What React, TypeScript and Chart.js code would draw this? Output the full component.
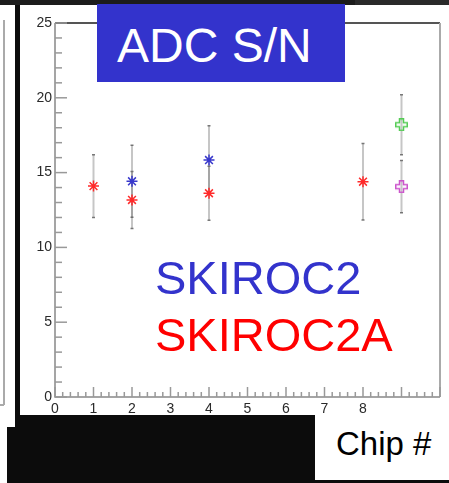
import React, { useEffect, useRef } from "react";
import { Chart, registerables } from "chart.js";

Chart.register(...registerables);

// ---- data ----
const skiroc2X = [2, 4];
const skiroc2Y = [14.42, 15.84];
const skiroc2Err = [2.4, 2.3];

const skiroc2aX = [1, 2, 4, 8];
const skiroc2aY = [14.1, 13.17, 13.62, 14.39];
const skiroc2aErr = [2.1, 1.9, 1.8, 2.56];

const greenX = [9];
const greenY = [18.2];
const greenErr = [2.0];

const magentaX = [9];
const magentaY = [14.06];
const magentaErr = [1.75];

const xTickMax = 8; // labels shown up to this value
const FONT = "'Liberation Sans', Arial, Helvetica, sans-serif";

function openCross(color: string): HTMLCanvasElement {
  const c = document.createElement("canvas");
  const s = 13;
  c.width = s;
  c.height = s;
  const g = c.getContext("2d")!;
  const a = 4.5, b = 8.5, lo = 0.75, hi = 12.25;
  g.strokeStyle = color;
  g.lineWidth = 1.5;
  g.beginPath();
  g.moveTo(a, lo);
  g.lineTo(b, lo);
  g.lineTo(b, a);
  g.lineTo(hi, a);
  g.lineTo(hi, b);
  g.lineTo(b, b);
  g.lineTo(b, hi);
  g.lineTo(a, hi);
  g.lineTo(a, b);
  g.lineTo(lo, b);
  g.lineTo(lo, a);
  g.lineTo(a, a);
  g.closePath();
  g.stroke();
  return c;
}

const framePlugin = {
  id: "rootFrame",
  beforeDatasetsDraw(chart: any) {
    const { ctx, chartArea: ca, scales } = chart;
    const xs = scales.x;
    const ys = scales.y;
    ctx.save();
    // frame
    ctx.lineWidth = 2;
    ctx.strokeStyle = "#555";
    ctx.beginPath();
    ctx.moveTo(ca.left, ca.top);
    ctx.lineTo(ca.right, ca.top);
    ctx.stroke();
    ctx.strokeStyle = "#aaa";
    ctx.beginPath();
    ctx.moveTo(ca.right, ca.top);
    ctx.lineTo(ca.right, ca.bottom);
    ctx.stroke();
    ctx.strokeStyle = "#888";
    ctx.lineWidth = 1.5;
    ctx.beginPath();
    ctx.moveTo(ca.left, ca.top);
    ctx.lineTo(ca.left, ca.bottom);
    ctx.lineTo(ca.right, ca.bottom);
    ctx.stroke();
    // y ticks
    ctx.lineWidth = 1.5;
    ctx.strokeStyle = "#999";
    for (let v = 0; v <= 25; v += 1) {
      const py = ys.getPixelForValue(v);
      const len = v % 5 === 0 ? 12 : 7;
      ctx.beginPath();
      ctx.moveTo(ca.left, py);
      ctx.lineTo(ca.left + len, py);
      ctx.stroke();
    }
    // x ticks
    for (let i = 0; i <= 50; i++) {
      const v = i / 5;
      const px = xs.getPixelForValue(v);
      const len = i % 5 === 0 ? 10 : 5;
      ctx.beginPath();
      ctx.moveTo(px, ca.bottom);
      ctx.lineTo(px, ca.bottom - len);
      ctx.stroke();
    }
    // error bars
    chart.data.datasets.forEach((ds: any) => {
      const errs: number[] = ds.errors || [];
      ds.data.forEach((p: any, i: number) => {
        const e = errs[i];
        if (e == null) return;
        const px = xs.getPixelForValue(p.x);
        const top = ys.getPixelForValue(p.y + e);
        const bot = ys.getPixelForValue(p.y - e);
        ctx.strokeStyle = "rgba(120,120,120,0.42)";
        ctx.lineWidth = 2;
        ctx.beginPath();
        ctx.moveTo(px, top);
        ctx.lineTo(px, bot);
        ctx.stroke();
        ctx.strokeStyle = "rgba(90,90,90,0.8)";
        ctx.lineWidth = 1.5;
        ctx.beginPath();
        ctx.moveTo(px - 1.5, top);
        ctx.lineTo(px + 1.5, top);
        ctx.moveTo(px - 1.5, bot);
        ctx.lineTo(px + 1.5, bot);
        ctx.stroke();
      });
    });
    ctx.restore();
  },
};

function pts(xs: number[], ys: number[]) {
  return xs.map((x, i) => ({ x, y: ys[i] }));
}

export default function App() {
  const ref = useRef<HTMLCanvasElement | null>(null);

  useEffect(() => {
    document.body.style.margin = "0";
    const canvas = ref.current!;
    const tickFont = { family: FONT, size: 14 };
    const chart = new Chart(canvas, {
      type: "scatter",
      data: {
        datasets: [
          {
            label: "SKIROC2A",
            data: pts(skiroc2aX, skiroc2aY),
            errors: skiroc2aErr,
            pointStyle: "star",
            pointRadius: 5.5,
            borderColor: "#ff2a2a",
            backgroundColor: "#ff2a2a",
            borderWidth: 1.5,
          } as any,
          {
            label: "SKIROC2",
            data: pts(skiroc2X, skiroc2Y),
            errors: skiroc2Err,
            pointStyle: "star",
            pointRadius: 5.5,
            borderColor: "#3838cc",
            backgroundColor: "#3838cc",
            borderWidth: 1.5,
          } as any,
          {
            label: "green",
            data: pts(greenX, greenY),
            errors: greenErr,
            pointStyle: openCross("#55cc55"),
            pointRadius: 6,
          } as any,
          {
            label: "magenta",
            data: pts(magentaX, magentaY),
            errors: magentaErr,
            pointStyle: openCross("#cc55cc"),
            pointRadius: 6,
          } as any,
        ],
      },
      options: {
        animation: false,
        responsive: false,
        maintainAspectRatio: false,
        layout: { padding: { top: 23, right: 9, left: 0, bottom: 0 } },
        plugins: { legend: { display: false }, tooltip: { enabled: false } },
        scales: {
          x: {
            type: "linear",
            min: 0,
            max: 10,
            afterFit: (s: any) => {
              s.height = 86;
            },
            grid: { display: false, drawTicks: false },
            border: { display: false },
            ticks: {
              stepSize: 1,
              padding: 4,
              font: tickFont,
              color: "#2a2a2a",
              maxRotation: 0,
              callback: (v: any) => (Number(v) <= xTickMax ? String(v) : ""),
            },
          },
          y: {
            type: "linear",
            min: 0,
            max: 25,
            afterFit: (s: any) => {
              s.width = 55;
            },
            grid: { display: false, drawTicks: false },
            border: { display: false },
            ticks: { stepSize: 5, padding: 3, font: tickFont, color: "#2a2a2a" },
          },
        },
      } as any,
      plugins: [framePlugin],
    });
    return () => chart.destroy();
  }, []);

  const abs = (o: React.CSSProperties): React.CSSProperties => ({ position: "absolute", ...o });

  return (
    <div
      style={{
        position: "fixed",
        left: 0,
        top: 0,
        width: 449,
        height: 483,
        background: "#0c0c0c",
        overflow: "hidden",
        fontFamily: FONT,
      }}
    >
      {/* top dark band */}
      <div style={abs({ left: 0, top: 0, width: 449, height: 5, background: "#1c1c1c" })} />
      <div style={abs({ left: 355, top: 0, width: 94, height: 5, background: "#2a2a2a" })} />
      {/* left partial panel */}
      <div style={abs({ left: 0, top: 5, width: 15, height: 422, background: "#fff" })} />
      <div style={abs({ left: 0, top: 5, width: 7, height: 478, background: "#fff" })} />
      <div style={abs({ left: 3, top: 20, width: 1.5, height: 385, background: "#aaa" })} />
      <div style={abs({ left: 0, top: 404, width: 4, height: 1.5, background: "#aaa" })} />
      {/* main panel */}
      <div style={abs({ left: 20, top: 5, width: 429, height: 410, background: "#fff" })} />
      <canvas
        ref={ref}
        width={449}
        height={483}
        style={abs({ left: 0, top: 0, width: 449, height: 483 })}
      />
      {/* title box */}
      <div
        style={abs({
          left: 97,
          top: 4,
          width: 248,
          height: 78,
          background: "#3333cc",
        })}
      />
      <div
        style={abs({
          left: 117,
          top: 61 - 48 * 0.905,
          fontSize: 48,
          lineHeight: "48px",
          color: "#fff",
          whiteSpace: "nowrap",
        })}
      >
        <span style={{ display: "inline-block", lineHeight: "normal" }}>ADC S/N</span>
      </div>
      {/* legend text */}
      <div style={abs({ left: 155, top: 250, fontSize: 47, color: "#3333cc", whiteSpace: "nowrap", lineHeight: "normal" })}>
        SKIROC2
      </div>
      <div style={abs({ left: 155, top: 307, fontSize: 47, color: "#ff0000", whiteSpace: "nowrap", lineHeight: "normal" })}>
        SKIROC2A
      </div>
      {/* axis title box */}
      <div style={abs({ left: 315, top: 415, width: 134, height: 65, background: "#fff" })} />
      <div style={abs({ left: 336, top: 425, fontSize: 33, color: "#000", whiteSpace: "nowrap", lineHeight: "normal" })}>
        Chip #
      </div>
    </div>
  );
}
